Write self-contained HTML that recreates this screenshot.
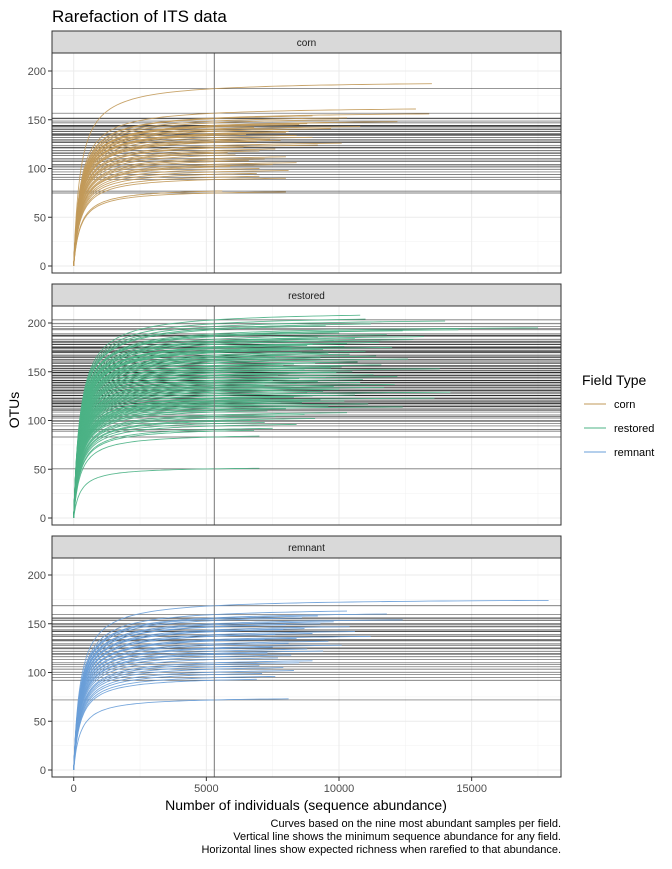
<!DOCTYPE html>
<html><head><meta charset="utf-8"><style>
body{margin:0;background:#fff;}
svg text{font-family:"Liberation Sans",Arial,sans-serif;}
</style></head><body>
<svg id="chart" width="672" height="864" xmlns="http://www.w3.org/2000/svg"></svg>
<script>
const fieldTypes=["corn","restored","remnant"];
const cornRich=[187,161,156,154,152,150,148,147,146,145,143,142,141,140,138,137,136,135,134,132,130,129,128,126,124,122,120,118,116,114,112,110,108,106,104,102,100,98,95,92,90,77,76];
const cornDepth=[13500,12900,13400,9000,10300,10000,12200,9600,8800,8500,10800,6800,9700,7500,8100,8000,6200,6500,8400,9000,7400,7800,6900,10100,9200,6400,7600,7000,5800,6100,8000,7200,6600,8400,7500,5900,7000,8100,6900,7000,8000,5600,8000];
const restRich=[208,204,202,199,197,195,193,192,190,188,186,185,184,183,182,181,180,179,178,177,176,175,174,173,172,171,170,169,168,167,166,165,164,163,162,161,160,159,158,157,156,155,154,153,152,151,150,149,148,147,146,145,144,143,142,141,140,139,138,137,136,135,134,133,132,131,130,129,128,127,126,125,124,123,122,121,120,119,118,117,116,115,114,112,110,108,106,104,102,100,98,96,92,90,84,51];
const restDepth=[10800,11000,14000,11200,9500,17500,14500,12400,10000,11800,13200,9200,10600,12800,9800,8400,11500,10300,9000,8800,10200,12000,8200,9400,7800,11000,8600,9600,10400,8000,11400,7600,9300,12600,8900,7400,10700,9100,8300,11600,7900,10100,9700,13800,8700,7300,10500,9900,8100,11300,7700,12200,9500,8500,10900,7500,9200,10800,8400,12100,7200,9800,11700,8200,10000,7900,9400,14200,8800,7100,10600,9000,8300,13600,7400,9300,10200,7800,8600,11100,7000,9600,12400,8000,7300,10300,8700,7600,9100,6700,7200,8400,7500,6800,7000,7000];
const remRich=[174,163,160,158,156,154,152,150,149,147,145,144,142,140,139,137,135,134,132,130,128,126,124,122,120,118,115,112,110,107,105,102,99,96,93,73];
const remDepth=[17900,10300,11800,9200,8600,12400,9800,9300,8000,10400,8700,7900,10600,9000,7600,11200,8400,7200,9600,8100,10100,7500,8800,9400,7300,8200,7700,9000,8500,7000,7900,8300,7100,7600,6900,8100];
const minDepth=5300;
const yTicks=[0,50,100,150,200];
const xTicks=[0,5000,10000,15000];
const colors={corn:"#C29A5A",restored:"#4CB386",remnant:"#6A9FD8"};
const series={corn:[cornRich,cornDepth],restored:[restRich,restDepth],remnant:[remRich,remDepth]};
const NS="http://www.w3.org/2000/svg";
const svg=document.getElementById('chart');
function mk(tag,attrs,parent){const e=document.createElementNS(NS,tag);for(const k in attrs)e.setAttribute(k,attrs[k]);(parent||svg).appendChild(e);return e;}
const X0=52,X1=561;
const xs=v=>73.7+v*(132.65/5000);
const panels=[{s:31,t:53,b:273,z:266},{s:284,t:306,b:525,z:518},{s:536,t:558,b:777,z:770}];
const K=250;
const frac=n=>n/(K+n);
function txt(x,y,s,attrs,name){const t=mk('text',Object.assign({x:x,y:y},attrs));t.textContent=s;

return t;}
const title=txt(52,22,"Rarefaction of ITS data",{'font-size':17,fill:'#000'},'chart-title');
fieldTypes.forEach((ft,pi)=>{
  const p=panels[pi];
  const ys=v=>p.z-v*0.975;
  const g=mk('g',{});
  
  
  mk('rect',{x:X0,y:p.t,width:X1-X0,height:p.b-p.t,fill:'#fff'},g);
  for(let v=25;v<=225;v+=50){const y=ys(v);if(y>p.t&&y<p.b)mk('line',{x1:X0,x2:X1,y1:y,y2:y,stroke:'#f0f0f0','stroke-width':0.5},g);}
  for(let v=-2500;v<=20000;v+=5000){const x=xs(v);if(x>X0&&x<X1)mk('line',{x1:x,x2:x,y1:p.t,y2:p.b,stroke:'#f0f0f0','stroke-width':0.5},g);}
  yTicks.forEach(v=>{const y=ys(v);mk('line',{x1:X0,x2:X1,y1:y,y2:y,stroke:'#ebebeb','stroke-width':1},g);
    txt(46,y+4,String(v),{'font-size':11,fill:'#4d4d4d','text-anchor':'end'},'y-tick-label');
    mk('line',{x1:48,x2:X0,y1:y,y2:y,stroke:'#333','stroke-width':1},g);});
  xTicks.forEach(v=>{const x=xs(v);mk('line',{x1:x,x2:x,y1:p.t,y2:p.b,stroke:'#ebebeb','stroke-width':1},g);});
  const [rich,depth]=series[ft];
  rich.forEach((A,i)=>{const D=depth[i];const v=A*frac(Math.min(minDepth,D))/frac(D);const y=ys(v);
    const l=mk('line',{x1:X0,x2:X1,y1:y,y2:y,stroke:'#000','stroke-opacity':0.65,'stroke-width':0.7},g);
    
    });
  rich.forEach((A,i)=>{const D=depth[i];let d='';const N=70;
    for(let j=0;j<=N;j++){const n=D*Math.pow(j/N,2.4);const v=A*frac(n)/frac(D);d+=(j?'L':'M')+xs(n).toFixed(1)+','+ys(v).toFixed(1);}
    const c=mk('path',{d:d,fill:'none',stroke:colors[ft],'stroke-width':0.9,'stroke-opacity':0.9},g);
    
    });
  const vl=mk('line',{x1:xs(minDepth),x2:xs(minDepth),y1:p.t,y2:p.b,stroke:'#777','stroke-width':1},g);
  
  
  mk('rect',{x:X0,y:p.t,width:X1-X0,height:p.b-p.t,fill:'none',stroke:'#333','stroke-width':1},g);
  const st=mk('rect',{x:X0,y:p.s,width:X1-X0,height:p.t-p.s,fill:'#d9d9d9',stroke:'#333','stroke-width':1},g);
  
  
  txt((X0+X1)/2,p.s+15,ft,{'font-size':10,fill:'#1a1a1a','text-anchor':'middle'},'strip-label');
});
xTicks.forEach(v=>{const x=xs(v);mk('line',{x1:x,x2:x,y1:777,y2:781,stroke:'#333'});
  txt(x,792,String(v),{'font-size':11,fill:'#4d4d4d','text-anchor':'middle'},'x-tick-label');});
txt(306,810,"Number of individuals (sequence abundance)",{'font-size':14,fill:'#000','text-anchor':'middle'},'x-axis-title');
txt(0,0,"OTUs",{'font-size':14,fill:'#000','text-anchor':'middle',transform:'translate(19,410) rotate(-90)'},'y-axis-title');
txt(582,385,"Field Type",{'font-size':14,fill:'#000'},'legend-title');
fieldTypes.forEach((ft,i)=>{const y=404+i*24;
  const l=mk('line',{x1:584,x2:606,y1:y,y2:y,stroke:colors[ft],'stroke-width':1});
  
  
  txt(614,y+4,ft,{'font-size':11,fill:'#000'},'legend-entry');});
["Curves based on the nine most abundant samples per field.","Vertical line shows the minimum sequence abundance for any field.","Horizontal lines show expected richness when rarefied to that abundance."].forEach((s,i)=>
  txt(561,827+i*13,s,{'font-size':11,fill:'#000','text-anchor':'end'},'caption-line'));
</script>
</body></html>
